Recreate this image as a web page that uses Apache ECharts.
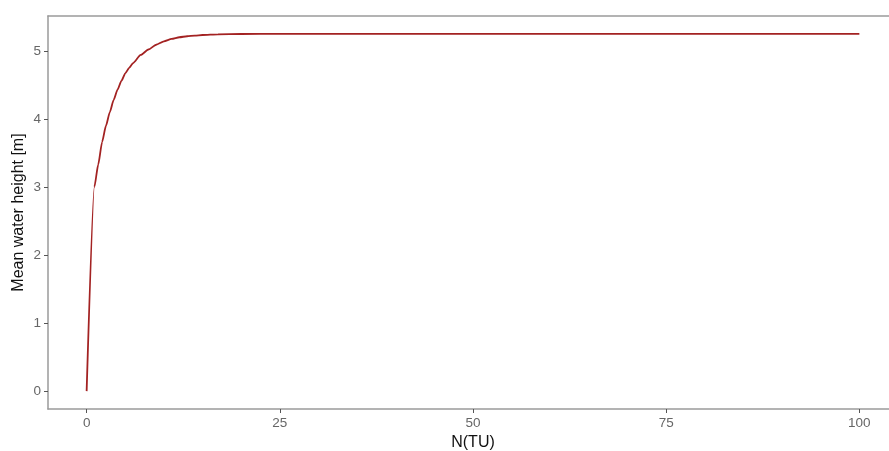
<!DOCTYPE html>
<html>
<head>
<meta charset="utf-8">
<script src="https://cdn.jsdelivr.net/npm/echarts@6/dist/echarts.min.js"></script>
<style>html,body{margin:0;padding:0;background:#fff;}#c{width:889px;height:451px;}</style>
</head>
<body>
<div id="c"></div>
<script>
const xValues = [0, 1, 1.5, 2, 2.5, 3, 3.5, 4, 4.5, 5, 5.5, 6, 7, 8, 9, 10, 11, 12, 13, 14, 15, 17, 20, 25, 30, 40, 50, 60, 70, 80, 90, 100];
const heightValues = [0, 3.0, 3.33, 3.66, 3.9, 4.1, 4.28, 4.43, 4.56, 4.67, 4.75, 4.82, 4.94, 5.02, 5.09, 5.14, 5.175, 5.2, 5.215, 5.225, 5.233, 5.243, 5.248, 5.25, 5.25, 5.25, 5.25, 5.25, 5.25, 5.25, 5.25, 5.25];
const xTicks = [0, 25, 50, 75, 100];
const yTicks = [0, 1, 2, 3, 4, 5];

const chart = echarts.init(document.getElementById('c'), null, {renderer: 'canvas'});
const font = 'Liberation Sans, Arial, sans-serif';
const borderLine = {show: true, onZero: false, lineStyle: {color: '#9a9a9a', width: 1.5}};
chart.setOption({
  animation: false,
  backgroundColor: '#fff',
  grid: {left: 48, top: 16, bottom: 42, right: -9, outerBoundsMode: 'none', containLabel: false, show: false},
  xAxis: [{
    type: 'value', min: -5, max: 105,
    name: 'N(TU)', nameLocation: 'middle', nameGap: 26, nameMoveOverlap: false,
    nameTextStyle: {fontFamily: font, fontSize: 16, color: '#111'},
    axisLine: borderLine,
    axisTick: {show: true, length: 4, customValues: xTicks, lineStyle: {color: '#555'}},
    axisLabel: {customValues: xTicks, fontFamily: font, fontSize: 13.5, color: '#666', margin: 7},
    splitLine: {show: false}
  }, {
    type: 'value', min: -5, max: 105, position: 'top',
    axisLine: borderLine,
    axisTick: {show: false}, axisLabel: {show: false}, splitLine: {show: false}
  }],
  yAxis: {
    type: 'value', min: -0.2625, max: 5.5125,
    name: 'Mean water height [m]', nameLocation: 'middle', nameGap: 21, nameRotate: 90, nameMoveOverlap: false,
    nameTextStyle: {fontFamily: font, fontSize: 16, color: '#111'},
    axisLine: borderLine,
    axisTick: {show: true, length: 4, customValues: yTicks, lineStyle: {color: '#555'}},
    axisLabel: {customValues: yTicks, fontFamily: font, fontSize: 13.5, color: '#666', margin: 7},
    splitLine: {show: false}
  },
  series: [{
    type: 'line',
    xAxisIndex: 0,
    data: xValues.map((x, i) => [x, heightValues[i]]),
    showSymbol: false,
    smooth: 0.2,
    smoothMonotone: 'x',
    lineStyle: {color: '#a32222', width: 1.8}
  }]
});
</script>
</body>
</html>
